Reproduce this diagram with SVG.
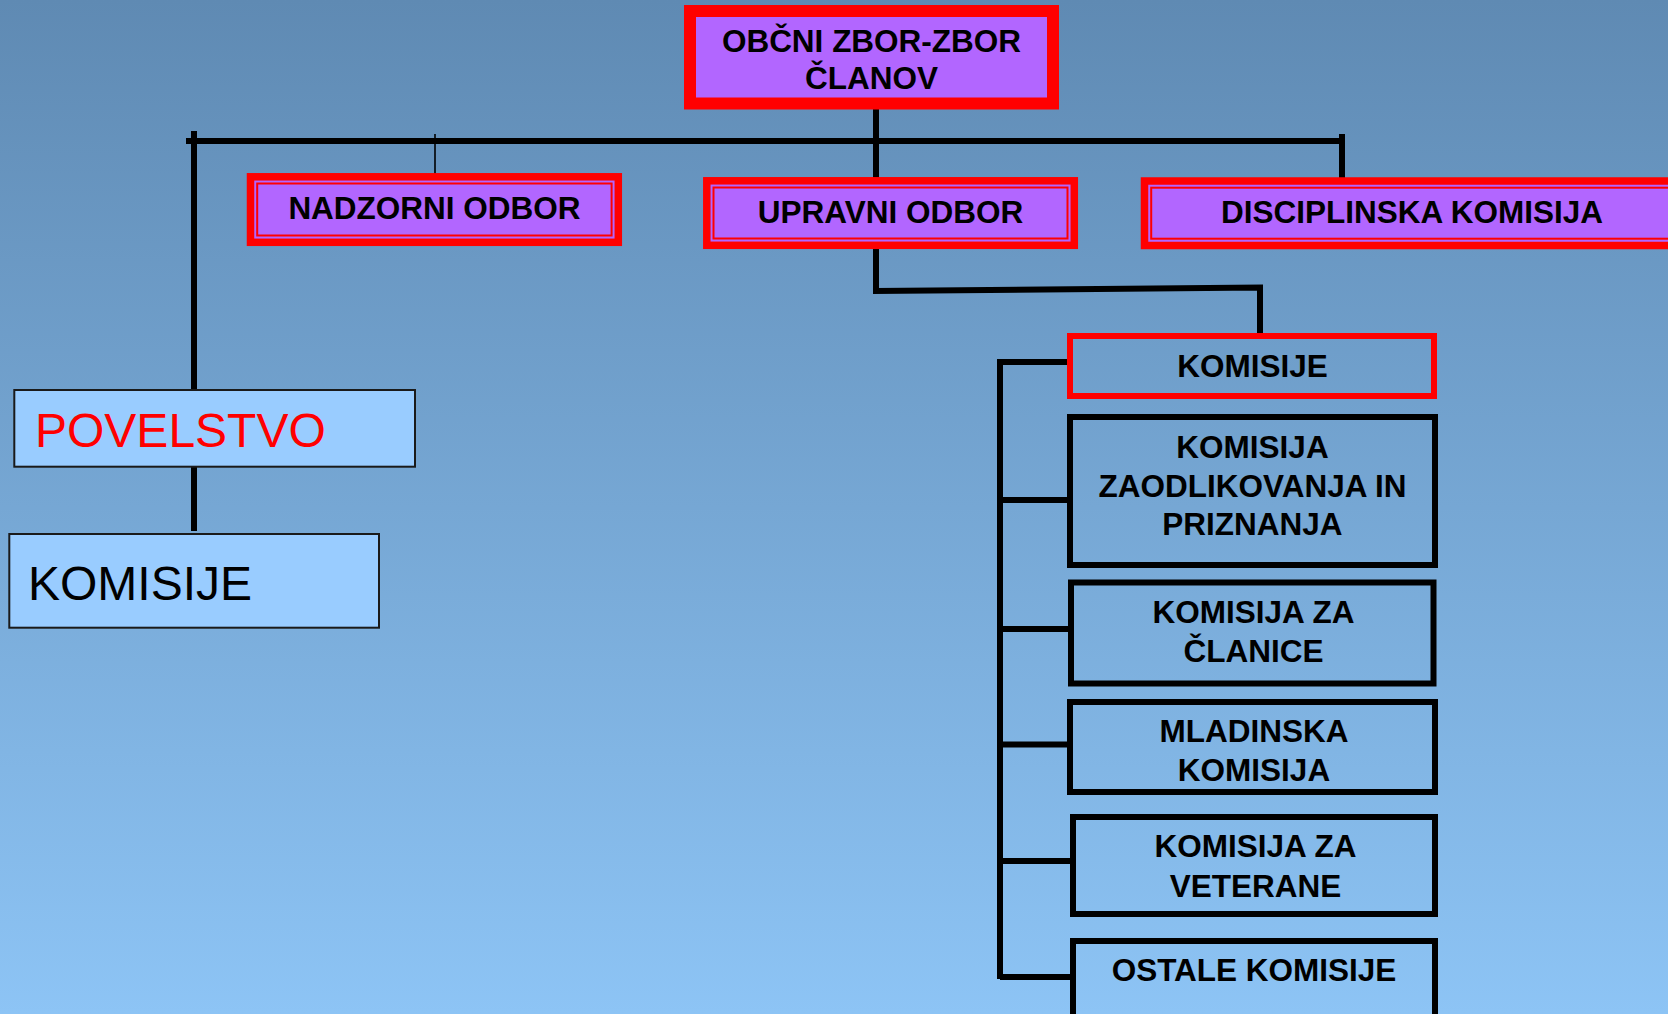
<svg xmlns="http://www.w3.org/2000/svg" width="1668" height="1014" viewBox="0 0 1668 1014">
<defs>
<linearGradient id="bg" x1="0" y1="0" x2="0" y2="1">
<stop offset="0" stop-color="#5f8ab3"/>
<stop offset="1" stop-color="#8dc4f5"/>
</linearGradient>
</defs>
<style>
.t{font-family:"Liberation Sans",Arial,sans-serif;font-weight:bold;font-size:31.5px;fill:#000;text-anchor:middle}
.big{font-family:"Liberation Sans",Arial,sans-serif;font-size:48px}
.band{fill:#b266ff;stroke:#ff0000;stroke-width:7.5}
.thin{fill:none;stroke:#ff0000;stroke-width:2}
.blk{fill:none;stroke:#000;stroke-width:6}
.lb{fill:#99ccff;stroke:#1a1a1a;stroke-width:2}
.c{stroke:#000;stroke-width:6;fill:none}
</style>
<rect width="1668" height="1014" fill="url(#bg)"/>
<g id="connectors">
<line class="c" x1="876" y1="104" x2="876" y2="179"/>
<line class="c" x1="186" y1="141" x2="1345" y2="141"/>
<line class="c" x1="194" y1="131" x2="194" y2="390" stroke-width="5.5"/>
<line class="c" x1="194" y1="467" x2="194" y2="531" stroke-width="5.5"/>
<line x1="435" y1="134" x2="435" y2="176" stroke="#000" stroke-width="1.6"/>
<line class="c" x1="1342" y1="134" x2="1342" y2="179"/>
<polyline class="c" stroke-width="5" points="876,249 876,291 1260,287.5 1260,336"/>
<line class="c" x1="1000" y1="359" x2="1000" y2="979"/>
<line class="c" x1="997" y1="362" x2="1067" y2="362" stroke-width="5"/>
<line class="c" x1="1000" y1="500" x2="1067" y2="500" stroke-width="5"/>
<line class="c" x1="1000" y1="629" x2="1068" y2="629" stroke-width="5"/>
<line class="c" x1="1000" y1="744.5" x2="1067" y2="744.5" stroke-width="5"/>
<line class="c" x1="1000" y1="861" x2="1070" y2="861" stroke-width="5"/>
<line class="c" x1="1000" y1="977" x2="1070" y2="977" stroke-width="5"/>
</g>
<g id="obcni-zbor">
<rect x="690" y="11" width="363" height="92.5" fill="#b266ff" stroke="#ff0000" stroke-width="12"/>
<text class="t" x="871.5" y="52">OBČNI ZBOR-ZBOR</text>
<text class="t" x="871.5" y="89">ČLANOV</text>
</g>
<g id="nadzorni-odbor">
<rect class="band" x="250.5" y="176.8" width="367.8" height="65.5"/>
<rect class="thin" x="257.2" y="183.5" width="354.4" height="52"/>
<text class="t" x="434.5" y="219">NADZORNI ODBOR</text>
</g>
<g id="upravni-odbor">
<rect class="band" x="706.8" y="180.8" width="367.5" height="64.5"/>
<rect class="thin" x="713.5" y="187.5" width="354" height="51"/>
<text class="t" x="890.5" y="223">UPRAVNI ODBOR</text>
</g>
<g id="disciplinska-komisija">
<rect class="band" x="1144.5" y="181" width="540" height="64.5"/>
<rect class="thin" x="1151.2" y="187.7" width="540" height="51"/>
<text class="t" x="1412" y="223">DISCIPLINSKA KOMISIJA</text>
</g>
<g id="povelstvo">
<rect class="lb" x="14.3" y="390" width="400.7" height="76.7"/>
<text class="big" x="35" y="447" fill="#ff0000">POVELSTVO</text>
</g>
<g id="komisije-left">
<rect class="lb" x="9.3" y="534" width="369.7" height="93.7"/>
<text class="big" x="28" y="600" fill="#000">KOMISIJE</text>
</g>
<g id="komisije">
<rect x="1070" y="336" width="364" height="60" fill="none" stroke="#ff0000" stroke-width="6"/>
<text class="t" x="1252.5" y="376.7">KOMISIJE</text>
</g>
<g id="komisija-odlikovanja">
<rect class="blk" x="1070" y="417" width="365" height="148"/>
<text class="t" x="1252.5" y="457.7">KOMISIJA</text>
<text class="t" x="1252.5" y="496.7">ZAODLIKOVANJA IN</text>
<text class="t" x="1252.5" y="535">PRIZNANJA</text>
</g>
<g id="komisija-clanice">
<rect class="blk" x="1071" y="582.5" width="362.5" height="101"/>
<text class="t" x="1253.5" y="622.7">KOMISIJA ZA</text>
<text class="t" x="1253.5" y="661.7">ČLANICE</text>
</g>
<g id="mladinska-komisija">
<rect class="blk" x="1070" y="702" width="365" height="90"/>
<text class="t" x="1254" y="741.7">MLADINSKA</text>
<text class="t" x="1254" y="780.7">KOMISIJA</text>
</g>
<g id="komisija-veterane">
<rect class="blk" x="1073" y="817" width="362" height="97"/>
<text class="t" x="1255.5" y="856.7">KOMISIJA ZA</text>
<text class="t" x="1255.5" y="896.7">VETERANE</text>
</g>
<g id="ostale-komisije">
<rect class="blk" x="1073" y="941" width="362" height="90"/>
<text class="t" x="1254" y="980.7">OSTALE KOMISIJE</text>
</g>
</svg>
